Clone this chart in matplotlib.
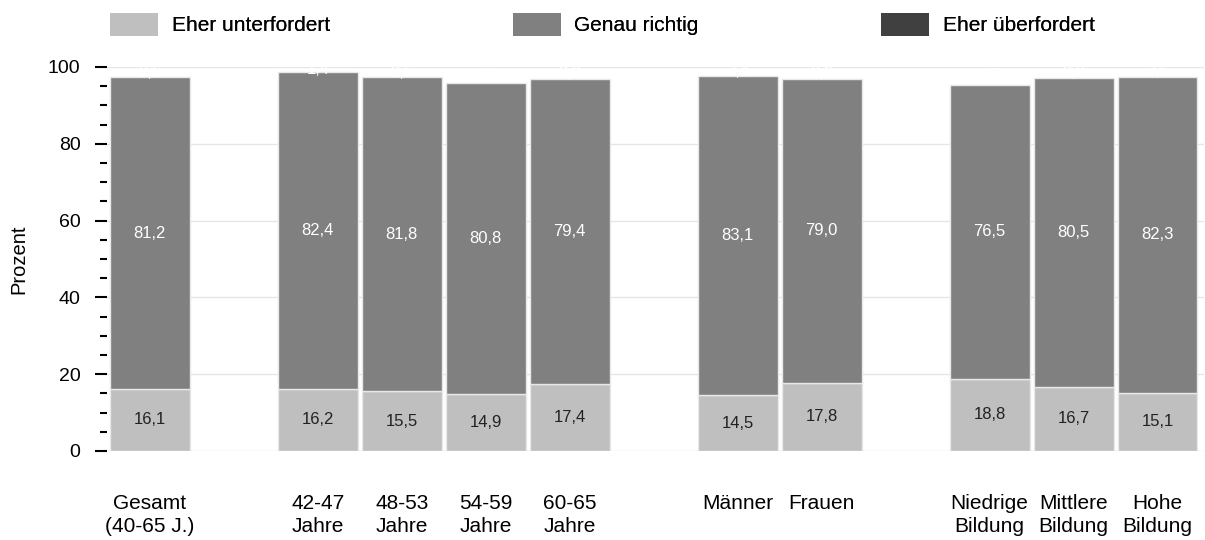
import matplotlib
matplotlib.use('Agg')
import matplotlib.pyplot as plt
from matplotlib.patches import Patch
from matplotlib.ticker import MultipleLocator

plt.rcParams['font.family'] = ['Liberation Sans', 'DejaVu Sans']

# Data
categories = ['Gesamt\n(40-65 J.)', '42-47\nJahre', '48-53\nJahre', '54-59\nJahre', '60-65\nJahre',
              'Männer', 'Frauen', 'Niedrige\nBildung', 'Mittlere\nBildung', 'Hohe\nBildung']
positions = [0, 2, 3, 4, 5, 7, 8, 10, 11, 12]
unterfordert = [16.1, 16.2, 15.5, 14.9, 17.4, 14.5, 17.8, 18.8, 16.7, 15.1]
genau_richtig = [81.2, 82.4, 81.8, 80.8, 79.4, 83.1, 79.0, 76.5, 80.5, 82.3]
ueberfordert = [2.6, 1.4, 2.6, 4.3, 3.2, 2.4, 3.2, 4.7, 2.8, 2.6]
series_names = ['Eher unterfordert', 'Genau richtig', 'Eher überfordert']
colors = ['#bfbfbf', '#808080', '#404040']

fig = plt.figure(figsize=(12.05, 5.4), dpi=100)
ax = fig.add_axes([0.0888, 0.165, 0.9102, 0.711])

width = 0.95
ax.bar(positions, unterfordert, width, color=colors[0], edgecolor='#e8e8e8', linewidth=1, zorder=3)
ax.bar(positions, genau_richtig, width, bottom=unterfordert, color=colors[1], edgecolor='#e8e8e8',
       linewidth=1, zorder=3)

# value labels (third series is only visible as clipped white labels above the bars)
for x, a, b, c in zip(positions, unterfordert, genau_richtig, ueberfordert):
    ax.text(x, a / 2, f'{a:.1f}'.replace('.', ','), ha='center', va='center',
            fontsize=12, color='#222222', zorder=4)
    ax.text(x, a + b / 2, f'{b:.1f}'.replace('.', ','), ha='center', va='center',
            fontsize=12, color='white', zorder=4)
    ax.text(x, a + b + c / 2, f'{c:.1f}'.replace('.', ','), ha='center', va='center',
            fontsize=12, color='white', zorder=4, clip_on=True)

ax.set_xlim(-0.51, 12.55)
ax.set_ylim(0, 100)
ax.set_xticks(positions)
ax.set_xticklabels(categories, fontsize=15, linespacing=1.25)
ax.tick_params(axis='x', length=0, pad=31)
ax.yaxis.set_major_locator(MultipleLocator(20))
ax.yaxis.set_minor_locator(MultipleLocator(5))
ax.tick_params(axis='y', which='major', length=9, width=1.5, labelsize=14, pad=10)
ax.tick_params(axis='y', which='minor', length=5, width=1.5)
ax.set_ylabel('Prozent', fontsize=14.5, labelpad=14)
ax.grid(axis='y', color='#e6e6e6', linewidth=1, zorder=0)
for s in ax.spines.values():
    s.set_visible(False)

# legend, three entries placed separately
legend_x = [0.0915, 0.4255, 0.7315]
for name, col, lx in zip(series_names, colors, legend_x):
    leg = fig.legend(handles=[Patch(facecolor=col, edgecolor='none')], labels=[name],
                     loc='center left', bbox_to_anchor=(lx, 0.955), frameon=False,
                     fontsize=15, handlelength=2.3, handleheight=1.3, handletextpad=0.65,
                     borderaxespad=0, borderpad=0)
    fig.add_artist(leg)

plt.savefig('out.png', dpi=100)
